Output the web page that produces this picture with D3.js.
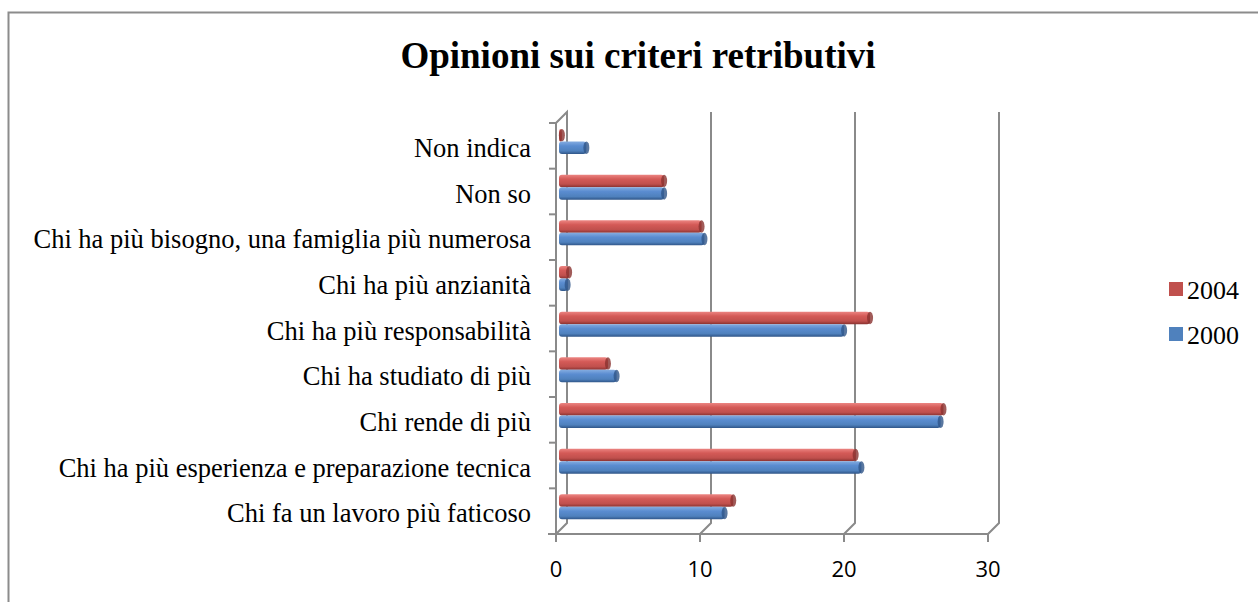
<!DOCTYPE html>
<meta charset="utf-8">
<head>
<style>
  body { margin: 0; background: #fff; }
  svg { display: block; }
</style>
</head>
<svg id="chart" width="1258" height="602"></svg>
<script src="https://d3js.org/d3.v7.min.js"></script>
<script>

// categories, top to bottom as drawn
var categories = [
  "Non indica",
  "Non so",
  "Chi ha più bisogno, una famiglia più numerosa",
  "Chi ha più anzianità",
  "Chi ha più responsabilità",
  "Chi ha studiato di più",
  "Chi rende di più",
  "Chi ha più esperienza e preparazione tecnica",
  "Chi fa un lavoro più faticoso"
];
var values2004 = [0.2, 7.3, 9.9, 0.7, 21.6, 3.4, 26.7, 20.6, 12.1];
var values2000 = [1.9, 7.3, 10.1, 0.6, 19.8, 4.0, 26.5, 21.0, 11.5];
var seriesNames = ["2004", "2000"];
var xTicks = [0, 10, 20, 30];

var svg = d3.select("#chart");

// chart area border
svg.append("rect")
  .attr("x", 8.5).attr("y", 12.5)
  .attr("width", 1300).attr("height", 700)
  .attr("fill", "none")
  .attr("stroke", "#8c8c8c")
  .attr("stroke-width", 2);

svg.append("text")
  .attr("x", 638).attr("y", 68)
  .attr("text-anchor", "middle")
  .style("font-family", "'Liberation Serif', 'Times New Roman', serif")
  .style("font-weight", "bold")
  .style("font-size", "37px")
  .text("Opinioni sui criteri retributivi");

// scales
var x = d3.scaleLinear().domain([0, 30]).range([556, 988]);
var y = d3.scaleBand().domain(categories).range([123, 534]);
var dx = 11, dy = -11; // depth of the 3d box
var wall = "#8a8a8a";

var walls = svg.append("g").attr("fill", "none").attr("stroke", wall).attr("stroke-width", 2);

// back wall gridlines + floor diagonals
xTicks.forEach(function(t) {
  var fx = x(t), bx = x(t) + dx;
  if (t > 0) {
    walls.append("path")
      .attr("d", "M" + bx + "," + (y.range()[0] + dy) + "L" + bx + "," + (534 + dy) + "L" + fx + "," + 534);
  }
});
// left wall
walls.append("path")
  .attr("d", "M" + x(0) + ",534L" + x(0) + "," + y.range()[0] +
             "L" + (x(0) + dx) + "," + (y.range()[0] + dy) +
             "L" + (x(0) + dx) + "," + (534 + dy) + "L" + x(0) + ",534");
// floor front edge
walls.append("path").attr("d", "M" + (x(0) - 8) + ",534L" + x(30) + ",534");

// y ticks
var yEdges = categories.map(function(c) { return y(c); }).concat([534]);
walls.selectAll(".ytick").data(yEdges).enter().append("line")
  .attr("x1", x(0) - 7).attr("x2", x(0))
  .attr("y1", function(d) { return d; }).attr("y2", function(d) { return d; });

// x ticks
walls.selectAll(".xtick").data(xTicks).enter().append("line")
  .attr("x1", function(d) { return x(d); }).attr("x2", function(d) { return x(d); })
  .attr("y1", 534).attr("y2", 542);

svg.selectAll(".xlab").data(xTicks).enter().append("text")
  .attr("x", function(d) { return x(d); })
  .attr("y", 577)
  .attr("text-anchor", "middle")
  .style("font-family", "'Open Sans', sans-serif")
  .style("font-size", "22px")
  .text(function(d) { return d; });

svg.selectAll(".ylab").data(categories).enter().append("text")
  .attr("x", 531)
  .attr("y", function(d) { return y(d) + y.bandwidth() / 2 + 2; })
  .attr("text-anchor", "end")
  .attr("dominant-baseline", "central")
  .style("font-family", "'Liberation Serif', 'Times New Roman', serif")
  .style("font-size", "26.5px")
  .text(function(d) { return d; });

// gradients for cylinder-like bars
var defs = svg.append("defs");
var colors = {
  "2004": ["#ec8582", "#d45a57", "#c0504d", "#8a3230"],
  "2000": ["#84ace0", "#5a8cd0", "#4f81bd", "#2f5588"]
};
seriesNames.forEach(function(s) {
  var g = defs.append("linearGradient").attr("id", "g" + s)
    .attr("x1", 0).attr("y1", 0).attr("x2", 0).attr("y2", 1);
  g.append("stop").attr("offset", "0%").attr("stop-color", colors[s][0]);
  g.append("stop").attr("offset", "35%").attr("stop-color", colors[s][1]);
  g.append("stop").attr("offset", "75%").attr("stop-color", colors[s][2]);
  g.append("stop").attr("offset", "100%").attr("stop-color", colors[s][3]);
});

var xb = d3.scaleLinear().domain([0, 30]).range([559, 991]);
var barH = 12.5;
var series = [
  { name: "2004", values: values2004, off: 6 },
  { name: "2000", values: values2000, off: 6 + barH }
];

series.forEach(function(s) {
  var g = svg.append("g");
  categories.forEach(function(c, i) {
    var y0 = y(c) + s.off;
    var w = Math.max(xb(s.values[i]) - xb(0), 1);
    g.append("rect")
      .attr("x", xb(0)).attr("y", y0)
      .attr("width", w).attr("height", barH)
      .attr("rx", 3).attr("ry", 3)
      .attr("fill", "url(#g" + s.name + ")");
    g.append("ellipse")
      .attr("cx", xb(0) + w).attr("cy", y0 + barH / 2)
      .attr("rx", 3).attr("ry", barH / 2)
      .attr("fill", colors[s.name][3])
      .attr("opacity", 0.8);
  });
});

// legend
var legend = svg.append("g");
seriesNames.forEach(function(s, i) {
  var ly = 289 + i * 45;
  legend.append("rect")
    .attr("x", 1169).attr("y", ly - 7)
    .attr("width", 14).attr("height", 14)
    .attr("fill", colors[s][2]);
  legend.append("text")
    .attr("x", 1187).attr("y", ly + 1)
    .attr("dominant-baseline", "central")
    .style("font-family", "'Liberation Serif', 'Times New Roman', serif")
    .style("font-size", "26px")
    .text(s);
});

</script>
